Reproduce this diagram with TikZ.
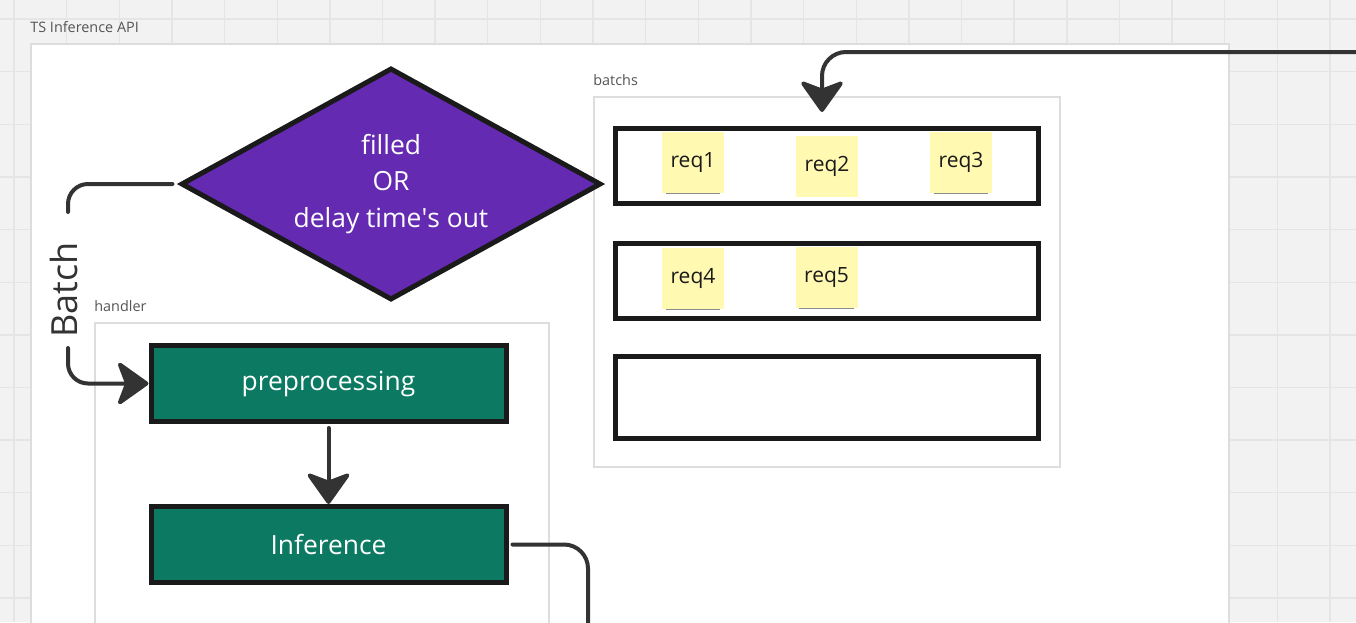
\documentclass[tikz,border=0pt]{standalone}
\usepackage{fontspec}
\setmainfont{Open Sans}
\usetikzlibrary{shapes.geometric,arrows.meta,shadows}
\definecolor{boardgray}{HTML}{F2F2F2}
\definecolor{gridgray}{HTML}{E5E5E5}
\definecolor{framegray}{HTML}{DDDDDD}
\definecolor{labelgray}{HTML}{555555}
\definecolor{boxblack}{HTML}{1A1A1A}
\definecolor{linegray}{HTML}{333333}
\definecolor{checkpurple}{HTML}{652AB2}
\definecolor{stepteal}{HTML}{0C7A62}
\definecolor{noteyellow}{HTML}{FFF9B1}

\begin{document}
\begin{tikzpicture}[x=0.5pt,y=-0.5pt,
	frame/.style={draw=framegray,fill=white,line width=0.6pt},
	framelabel/.style={anchor=west,text=labelgray,inner sep=0pt,font=\fontsize{7.2}{9}\selectfont},
	stepbox/.style={draw=boxblack,fill=stepteal,line width=2.5pt,minimum width=177.5pt,minimum height=38pt,inner sep=0pt,text=white,font=\fontsize{13.2}{15}\selectfont},
	decision/.style={diamond,draw=boxblack,fill=checkpurple,line width=2.5pt,minimum width=210pt,minimum height=116pt,inner sep=0pt},
	batchrow/.style={draw=boxblack,fill=white,line width=2.5pt,minimum width=211.5pt,inner sep=0pt},
	sticky/.style={fill=noteyellow,minimum width=31pt,minimum height=30.5pt,inner sep=0pt,font=\fontsize{10.5}{12}\selectfont,text=boxblack,
		drop shadow={shadow xshift=0pt,shadow yshift=-2.5pt,shadow scale=0.88,opacity=0.45,fill=black}},
	conn/.style={draw=linegray,line width=2pt,line cap=round},
	tip/.style={-{Stealth[length=17pt,width=24pt,inset=4.5pt,round]}}]
	\clip (0,0) rectangle (1356,622);
	\fill[boardgray] (0,0) rectangle (1356,622);
	\foreach \i in {0,...,26}
		\draw[gridgray,line width=0.7pt] (14+52.64*\i,0) -- (14+52.64*\i,622);
	\foreach \j in {0,...,11}
		\draw[gridgray,line width=0.7pt] (0,19+52.64*\j) -- (1356,19+52.64*\j);

	\draw[frame] (31,44) rectangle (1229,700);
	\node[framelabel] (apilbl) at (30,27) {TS Inference API};
	\draw[frame] (594,97) rectangle (1060,467);
	\node[framelabel] (batchslbl) at (593,80) {batchs};
	\draw[frame] (95,323) rectangle (549,700);
	\node[framelabel] (handlerlbl) at (94,306) {handler};

	\node[decision,label={[text=white,align=center,font=\fontsize{13.2}{18.4}\selectfont]center:filled\\OR\\delay time\textquotesingle s out}] (check) at (391,184) {};

	\node[stepbox] (prep) at (328.5,383.5) {preprocessing};
	\node[stepbox] (infer) at (328.5,544.5) {Inference};

	\node[batchrow,minimum height=37.5pt] (row1) at (827,166) {};
	\node[batchrow,minimum height=37.5pt] (row2) at (827,281) {};
	\node[batchrow,minimum height=41pt] (row3) at (827,397.5) {};

	\node[sticky] (req1) at (693,162.5) {req1};
	\node[sticky] (req2) at (827,166) {req2};
	\node[sticky] (req3) at (961,162.5) {req3};
	\node[sticky] (req4) at (693,278.5) {req4};
	\node[sticky] (req5) at (826.5,277.5) {req5};

	\node[rotate=90,text=linegray,font=\fontsize{18}{20}\selectfont] (batchlbl) at (64,290) {Batch};
	\coordinate (b1) at (68,212);
	\coordinate (b2) at (68,348);
	\draw[conn,rounded corners=10pt] ([xshift=-3pt]check.west) -| (b1);
	\draw[conn,tip,rounded corners=10pt] (b2) |- (prep.west);

	\draw[conn,tip] ([yshift=-2pt]prep.south) -- (infer.north);

	\coordinate (out) at (588,660);
	\draw[conn,rounded corners=12pt] ([xshift=2pt]infer.east) -| (out);

	\coordinate (feed) at (1370,52);
	\coordinate (drop) at (822,112);
	\draw[conn,tip,rounded corners=12pt] (feed) -| (drop);
\end{tikzpicture}
\end{document}
